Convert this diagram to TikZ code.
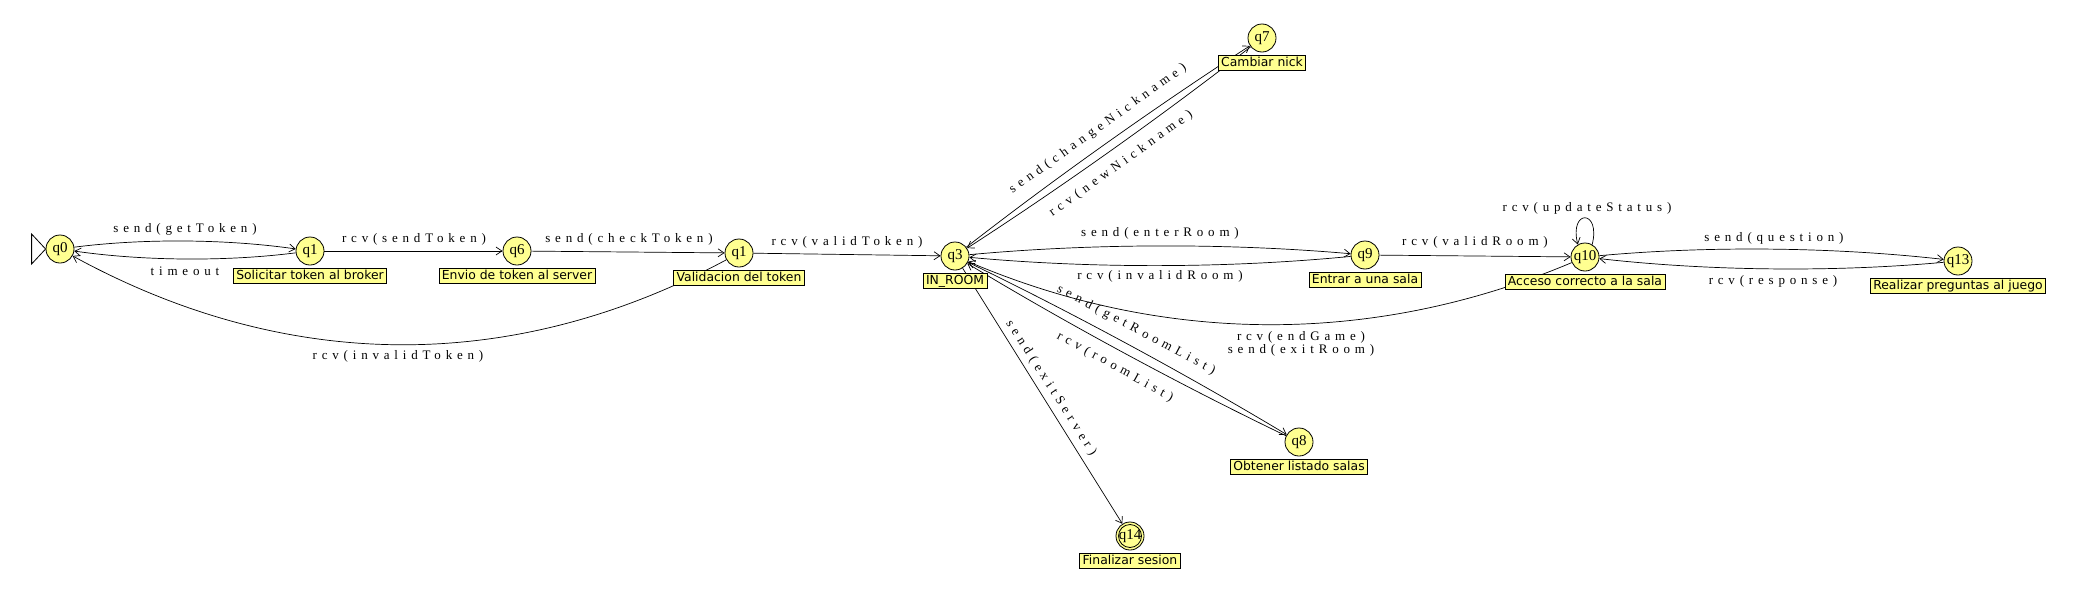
\documentclass[tikz,border=0pt]{standalone}
\usepackage{fontspec}
\usetikzlibrary{arrows.meta,calc}
\newfontfamily\elabfam[LetterSpace=37]{Liberation Serif}
\newfontfamily\statefam{Liberation Serif}
\newfontfamily\tagfam{DejaVu Sans}
\definecolor{jyellow}{RGB}{255,255,145}
\begin{document}
\begin{tikzpicture}[x=1pt,y=-1pt,
  jstate/.style={circle, draw, fill=jyellow, minimum size=28pt, inner sep=0pt, line width=0.8pt, font=\statefam\fontsize{15}{15}\selectfont},
  tagbox/.style={draw, fill=jyellow, rectangle, inner xsep=3pt, inner ysep=1.5pt, text height=9.3pt, text depth=2.6pt, line width=0.7pt, font=\tagfam\fontsize{12.4}{14}\selectfont, anchor=north},
  elab/.style={inner sep=0pt, font=\elabfam\fontsize{13}{13.5}\selectfont},
  tr/.style={draw, line width=0.7pt, -{Straight Barb[length=6pt,width=8pt]}}]
\useasboundingbox (0,0) rectangle (2089,608);
% states
\node[jstate] (q0) at (60,249) {q0};
\node[jstate] (q1) at (310,251) {q1};
\node[jstate] (q6) at (517,251) {q6};
\node[jstate] (q1b) at (739,253) {q1};
\node[jstate] (q3) at (955,256) {q3};
\node[jstate] (q7) at (1262,38) {q7};
\node[jstate] (q9) at (1365,255) {q9};
\node[jstate] (q10) at (1585,257) {q10};
\node[jstate] (q13) at (1958,261) {q13};
\node[jstate] (q8) at (1299,442) {q8};
\node[jstate] (q14) at (1130,536) {q14};
\draw[line width=0.8pt] (q14.center) circle (11.5);
% initial marker
\draw[line width=0.8pt] (q0.west) -- ++(-14,-15) -- ++(0,30) -- cycle;
% transitions (quadratic curves: control point P)
\draw[tr] (q0) .. controls ($(q0)!2/3!(185,233)$) and ($(q1)!2/3!(185,233)$) .. (q1);
\draw[tr] (q1) .. controls ($(q1)!2/3!(185,267)$) and ($(q0)!2/3!(185,267)$) .. (q0);
\draw[tr] (q1) -- (q6);
\draw[tr] (q6) -- (q1b);
\draw[tr] (q1b) .. controls ($(q1b)!2/3!(400,435)$) and ($(q0)!2/3!(400,435)$) .. (q0);
\draw[tr] (q1b) -- (q3);
\draw[tr] (q3) .. controls ($(q3)!2/3!(1104,140)$) and ($(q7)!2/3!(1104,140)$) .. (q7);
\draw[tr] (q7) .. controls ($(q7)!2/3!(1113,154)$) and ($(q3)!2/3!(1113,154)$) .. (q3);
\draw[tr] (q3) .. controls ($(q3)!2/3!(1160,237)$) and ($(q9)!2/3!(1160,237)$) .. (q9);
\draw[tr] (q9) .. controls ($(q9)!2/3!(1160,275)$) and ($(q3)!2/3!(1160,275)$) .. (q3);
\draw[tr] (q10) .. controls ($(q10)!2/3!(1270,390)$) and ($(q3)!2/3!(1270,390)$) .. (q3);
\draw[tr] (q3) .. controls ($(q3)!2/3!(1131,341)$) and ($(q8)!2/3!(1131,341)$) .. (q8);
\draw[tr] (q8) .. controls ($(q8)!2/3!(1122,357)$) and ($(q3)!2/3!(1122,357)$) .. (q3);
\draw[tr] (q3) -- (q14);
\draw[tr] (q9) -- (q10);
\draw[tr] (q10.60) .. controls (1601,209) and (1569,209) .. (q10.120);
\draw[tr] (q10) .. controls ($(q10)!2/3!(1771,240)$) and ($(q13)!2/3!(1771,240)$) .. (q13);
\draw[tr] (q13) .. controls ($(q13)!2/3!(1771,278)$) and ($(q10)!2/3!(1771,278)$) .. (q10);
% transition labels
\node[elab] (l1) at (185,229) {send(getToken)};
\node[elab] (l2) at (185,271) {timeout};
\node[elab] (l3) at (414,239) {rcv(sendToken)};
\node[elab] (l4) at (629,239) {send(checkToken)};
\node[elab] (l5) at (398,356) {rcv(invalidToken)};
\node[elab] (l6) at (847,242) {rcv(validToken)};
\node[elab, rotate=35.5] (l7) at (1098,129) {send(changeNickname)};
\node[elab, rotate=35.5] (l8) at (1121,164) {rcv(newNickname)};
\node[elab] (l9) at (1160,233) {send(enterRoom)};
\node[elab] (l10) at (1160,276) {rcv(invalidRoom)};
\node[elab, align=center] (l11) at (1301,344) {rcv(endGame)\\send(exitRoom)};
\node[elab, rotate=-28] (l12) at (1136,330) {send(getRoomList)};
\node[elab, rotate=-29] (l13) at (1115,367) {rcv(roomList)};
\node[elab, rotate=-57.5] (l14) at (1051,388) {send(exitServer)};
\node[elab] (l15) at (1475,242) {rcv(validRoom)};
\node[elab] (l16) at (1587,208) {rcv(updateStatus)};
\node[elab] (l17) at (1774,238) {send(question)};
\node[elab] (l18) at (1773,281) {rcv(response)};
% state tags
\node[tagbox] (t1) at ([yshift=-17pt]q1.center) {Solicitar token al broker};
\node[tagbox] (t6) at ([yshift=-17pt]q6.center) {Envio de token al server};
\node[tagbox] (t1b) at ([yshift=-17pt]q1b.center) {Validacion del token};
\node[tagbox] (t3) at ([yshift=-17pt]q3.center) {IN\_ROOM};
\node[tagbox] (t7) at ([yshift=-17pt]q7.center) {Cambiar nick};
\node[tagbox] (t9) at ([yshift=-17pt]q9.center) {Entrar a una sala};
\node[tagbox] (t10) at ([yshift=-17pt]q10.center) {Acceso correcto a la sala};
\node[tagbox] (t13) at ([yshift=-17pt]q13.center) {Realizar preguntas al juego};
\node[tagbox] (t8) at ([yshift=-17pt]q8.center) {Obtener listado salas};
\node[tagbox] (t14) at ([yshift=-17pt]q14.center) {Finalizar sesion};
\end{tikzpicture}
\end{document}
